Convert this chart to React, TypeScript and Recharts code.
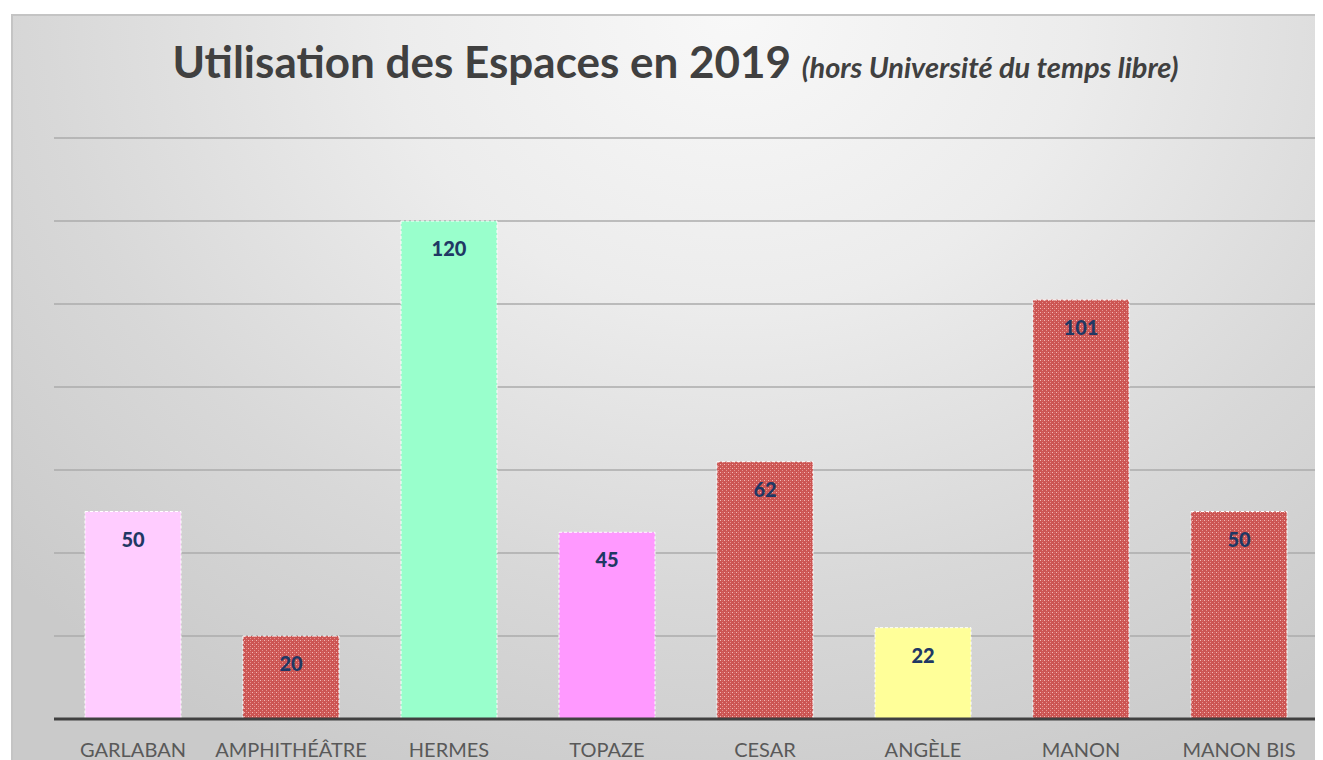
import React from "react";
import { Bar, BarChart, CartesianGrid, Cell, LabelList, XAxis, YAxis } from "recharts";

const espaces = ["GARLABAN", "AMPHITHÉÂTRE", "HERMES", "TOPAZE", "CESAR", "ANGÈLE", "MANON", "MANON BIS"];
const utilisations = [50, 20, 120, 45, 62, 22, 101, 50];
const yTicks = [0, 20, 40, 60, 80, 100, 120, 140];

// fill per bar, same order as espaces
const fills = [
  "#FFCCFF",
  "url(#hatchRed)",
  "#99FFCC",
  "#FF99FF",
  "url(#hatchRed)",
  "#FFFF99",
  "url(#hatchRed)",
  "url(#hatchRed)",
];

const data = espaces.map((name, i) => ({ name, value: utilisations[i] }));

const FONT = "Lato, 'Open Sans', sans-serif";

export default function App() {
  return (
    <div style={{ position: "relative", width: 1315, height: 752, overflow: "hidden" }}>
      <div
        style={{
          position: "absolute",
          left: 3,
          top: 6,
          right: 0,
          bottom: -10,
          borderTop: "2px solid #c4c4c4",
          borderLeft: "2px solid #c4c4c4",
          background:
            "radial-gradient(ellipse 75% 110% at 55% 0%, #f8f8f8 0%, #ececec 35%, #d8d8d8 70%, #cacaca 100%)",
        }}
      />
      <div
        style={{
          position: "absolute",
          left: 0,
          width: 1335,
          top: 27,
          textAlign: "center",
          fontFamily: FONT,
          color: "#404040",
          whiteSpace: "nowrap",
        }}
      >
        <span style={{ fontSize: 44, fontWeight: 700 }}>Utilisation des Espaces en 2019 </span>
        <span style={{ fontSize: 29, fontWeight: 700, fontStyle: "italic" }}>(hors Université du temps libre)</span>
      </div>
      <div style={{ position: "absolute", left: 0, top: 0 }}>
        <BarChart
          width={1315}
          height={752}
          data={data}
          margin={{ top: 130, right: 5, left: 46, bottom: 0 }}
          barSize={96}
        >
          <defs>
            <pattern id="hatchRed" width="4" height="4" patternUnits="userSpaceOnUse">
              <rect width="4" height="4" fill="#CC5553" />
              <rect x="0" y="0" width="1" height="1" fill="#F2B8B6" />
              <rect x="2" y="2" width="1" height="1" fill="#E59390" />
              <rect x="2" y="0" width="1" height="1" fill="#D86E6B" />
            </pattern>
          </defs>
          <CartesianGrid vertical={false} stroke="#ababab" strokeWidth={1.5} />
          <YAxis hide domain={[0, 140]} ticks={yTicks} />
          <XAxis
            dataKey="name"
            height={41}
            axisLine={{ stroke: "#404040", strokeWidth: 3 }}
            tickLine={false}
            tick={{ fill: "#595959", fontSize: 20, fontFamily: FONT }}
            tickMargin={18}
            interval={0}
          />
          <Bar dataKey="value" isAnimationActive={false} stroke="#ffffff" strokeWidth={1} strokeDasharray="3 2">
            {data.map((d, i) => (
              <Cell key={d.name} fill={fills[i]} />
            ))}
            <LabelList
              dataKey="value"
              position="insideTop"
              offset={21}
              fill="#1F3864"
              fontSize={20}
              fontWeight={900}
              fontFamily={FONT}
            />
          </Bar>
        </BarChart>
      </div>
    </div>
  );
}
